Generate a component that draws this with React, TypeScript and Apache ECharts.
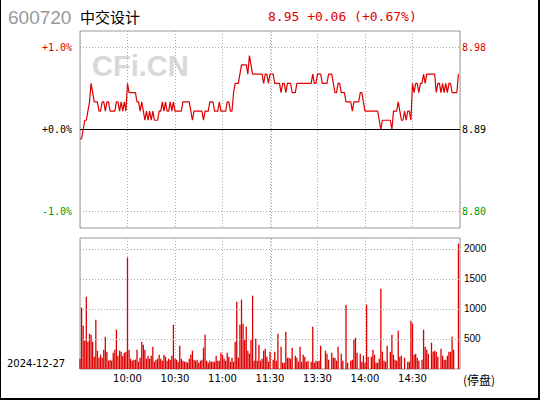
import React, { useEffect, useRef } from "react";
import * as echarts from "echarts";

const stockCode = "600720";
const stockName = "中交设计";
const tradeDate = "2024-12-27";
const statusText = "(停盘)";
const prevClose = 8.89;

// one price per minute, 9:30 .. 14:59
const prices = [
  8.88, 8.88, 8.89, 8.90, 8.90, 8.91, 8.92, 8.94, 8.93, 8.92,
  8.92, 8.92, 8.91, 8.91, 8.92, 8.92, 8.91, 8.92, 8.92, 8.91,
  8.91, 8.91, 8.91, 8.92, 8.92, 8.91, 8.92, 8.91, 8.92, 8.91,
  8.94, 8.93, 8.93, 8.93, 8.93, 8.93, 8.92, 8.92, 8.91, 8.92,
  8.91, 8.90, 8.91, 8.90, 8.91, 8.90, 8.91, 8.90, 8.90, 8.90,
  8.91, 8.91, 8.92, 8.91, 8.92, 8.91, 8.91, 8.92, 8.91, 8.92,
  8.91, 8.91, 8.91, 8.91, 8.91, 8.92, 8.92, 8.92, 8.92, 8.92,
  8.91, 8.90, 8.91, 8.91, 8.91, 8.91, 8.91, 8.91, 8.90, 8.91,
  8.91, 8.91, 8.92, 8.92, 8.92, 8.91, 8.91, 8.91, 8.92, 8.91,
  8.91, 8.91, 8.91, 8.92, 8.92, 8.91, 8.91, 8.93, 8.94, 8.94,
  8.94, 8.95, 8.96, 8.96, 8.96, 8.96, 8.95, 8.97, 8.96, 8.95,
  8.95, 8.95, 8.95, 8.95, 8.95, 8.95, 8.94, 8.95, 8.95, 8.94,
  8.95, 8.95, 8.95, 8.94, 8.94, 8.94, 8.94, 8.93, 8.94, 8.94,
  8.93, 8.94, 8.94, 8.94, 8.93, 8.93, 8.93, 8.94, 8.94, 8.94,
  8.94, 8.94, 8.94, 8.94, 8.94, 8.94, 8.94, 8.95, 8.94, 8.94,
  8.95, 8.95, 8.95, 8.94, 8.94, 8.94, 8.94, 8.95, 8.95, 8.95,
  8.94, 8.93, 8.93, 8.94, 8.94, 8.93, 8.93, 8.93, 8.92, 8.92,
  8.92, 8.92, 8.91, 8.92, 8.92, 8.92, 8.92, 8.93, 8.93, 8.92,
  8.91, 8.91, 8.91, 8.91, 8.91, 8.91, 8.91, 8.91, 8.91, 8.90,
  8.89, 8.90, 8.90, 8.90, 8.90, 8.90, 8.90, 8.89, 8.91, 8.91,
  8.91, 8.92, 8.91, 8.90, 8.90, 8.91, 8.90, 8.91, 8.91, 8.90,
  8.94, 8.93, 8.94, 8.94, 8.93, 8.94, 8.94, 8.95, 8.94, 8.95,
  8.95, 8.95, 8.95, 8.95, 8.95, 8.93, 8.94, 8.94, 8.93, 8.94,
  8.93, 8.94, 8.93, 8.94, 8.94, 8.93, 8.93, 8.93, 8.93, 8.95,
];

// volume per minute (lots)
const volumes = [
  172, 1022, 722, 472, 1206, 456, 589, 572, 456, 206,
  822, 306, 189, 239, 189, 322, 539, 289, 139, 156,
  139, 272, 322, 656, 222, 306, 289, 222, 272, 289,
  1857, 322, 172, 139, 156, 156, 322, 122, 189, 456,
  406, 322, 172, 222, 172, 222, 372, 122, 156, 172,
  239, 172, 139, 239, 206, 139, 172, 156, 222, 739,
  172, 156, 122, 389, 172, 139, 122, 122, 106, 172,
  239, 306, 156, 139, 156, 106, 139, 156, 356, 572,
  139, 106, 139, 122, 122, 122, 222, 139, 139, 272,
  239, 172, 139, 272, 206, 122, 189, 122, 456, 1122,
  189, 739, 1156, 756, 489, 706, 306, 256, 489, 1222,
  139, 506, 139, 406, 139, 172, 306, 339, 206, 122,
  289, 0, 156, 289, 139, 589, 0, 372, 106, 106,
  622, 189, 189, 172, 356, 0, 222, 189, 122, 372,
  122, 239, 206, 122, 139, 0, 122, 706, 106, 139,
  122, 139, 389, 0, 0, 306, 256, 156, 0, 272,
  189, 189, 139, 372, 0, 256, 139, 0, 1072, 106,
  0, 139, 156, 489, 522, 272, 0, 256, 122, 222,
  106, 1072, 206, 0, 206, 322, 239, 106, 106, 172,
  1339, 289, 139, 122, 389, 0, 289, 572, 239, 156,
  139, 639, 206, 222, 0, 189, 0, 122, 122, 806,
  756, 239, 256, 189, 139, 0, 156, 656, 372, 322,
  256, 0, 439, 289, 306, 289, 206, 0, 339, 222,
  156, 156, 222, 289, 289, 539, 322, 0, 0, 2089,
];

const timeTicks = [30, 60, 90, 120, 150, 180, 210];
const timeLabels = ["10:00", "10:30", "11:00", "11:30", "13:30", "14:00", "14:30"];
const lunchResumeTick = 121;
const pctTicks = [1, 0, -1];
const volumeTicks = [500, 1000, 1500, 2000];

const RED = "#dd0000";
const GREEN = "#009900";
const GRID = "#aaaaaa";
const BORDER = "#999999";
const MONO = "DejaVu Sans Mono";
const SANS = "DejaVu Sans";

const toPct = (p: number) => (p / prevClose - 1) * 100;
const fmtPct = (v: number) => (v < 0 ? "-" : "+") + Math.abs(v).toFixed(1) + "%";
const priceAt = (v: number) => (prevClose * (1 + v / 100)).toFixed(2);

export default function App() {
  const ref = useRef<HTMLDivElement>(null);

  useEffect(() => {
    if (!ref.current) return;
    const chart = echarts.init(ref.current, undefined, { renderer: "svg" });

    const last = prices[prices.length - 1];
    const chg = last - prevClose;
    const chgPct = (chg / prevClose) * 100;
    const sign = chg >= 0 ? "+" : "-";
    const headText = `${last.toFixed(2)} ${sign}${Math.abs(chg).toFixed(2)} (${sign}${Math.abs(chgPct).toFixed(2)}%)`;

    const dotted = { color: GRID, type: [1, 2] as any, width: 1 };

    const priceMarks: any[] = [];
    pctTicks.forEach((v) => {
      const color = v > 0 ? RED : v < 0 ? GREEN : "#000000";
      const ls = v === 0 ? { color: "#000000", type: "solid", width: 1 } : dotted;
      priceMarks.push({
        yAxis: v,
        lineStyle: ls,
        label: { show: true, position: "start", formatter: fmtPct(v), color, distance: 8, fontFamily: MONO, fontSize: 10 },
      });
      priceMarks.push({
        yAxis: v,
        lineStyle: ls,
        label: { show: true, position: "end", formatter: priceAt(v), color, distance: 2, fontFamily: MONO, fontSize: 10 },
      });
    });
    priceMarks.push({ xAxis: lunchResumeTick, lineStyle: dotted, label: { show: false } });

    const volMarks: any[] = volumeTicks.map((v) => ({
      yAxis: v,
      lineStyle: dotted,
      label: { show: true, position: "end", formatter: String(v), color: "#000000", distance: 4, fontFamily: "Liberation Sans", fontSize: 10 },
    }));
    volMarks.push({ xAxis: lunchResumeTick, lineStyle: dotted, label: { show: false } });

    const xBase = {
      type: "value",
      min: 0,
      max: 240,
      interval: 30,
      axisLine: { show: false },
      axisTick: { show: false },
      splitLine: { show: true, lineStyle: dotted },
    };

    chart.setOption({
      animation: false,
      backgroundColor: "#ffffff",
      grid: [
        { left: 80, top: 31, width: 380, height: 197, show: true, borderColor: BORDER, borderWidth: 1 },
        { left: 80, top: 238, width: 380, height: 131, show: true, borderColor: BORDER, borderWidth: 1 },
      ],
      xAxis: [
        { ...xBase, gridIndex: 0, axisLabel: { show: false } },
        {
          ...xBase,
          gridIndex: 1,
          axisLabel: {
            show: true,
            margin: 4,
            color: "#000000",
            fontFamily: SANS,
            fontSize: 10,
            formatter: (v: number) => {
              const k = timeTicks.indexOf(v);
              return k >= 0 ? timeLabels[k] : "";
            },
          },
        },
      ],
      yAxis: [
        { type: "value", gridIndex: 0, min: -1.2, max: 1.2, axisLabel: { show: false }, axisLine: { show: false }, axisTick: { show: false }, splitLine: { show: false } },
        { type: "value", gridIndex: 1, min: 0, max: 2183, axisLabel: { show: false }, axisLine: { show: false }, axisTick: { show: false }, splitLine: { show: false } },
      ],
      graphic: [
        { type: "rect", shape: { x: 0, y: -10, width: 539, height: 409 }, style: { fill: "none", stroke: "#000000", lineWidth: 2 }, silent: true },
        { type: "text", x: 8, y: 17, style: { text: stockCode, fill: "#999999", font: "19px 'Liberation Sans'", textVerticalAlign: "middle" } },
        { type: "text", x: 80, y: 16, style: { text: stockName, fill: "#000000", font: "15px 'Noto Sans CJK SC'", textVerticalAlign: "middle" } },
        { type: "text", x: 268, y: 16, style: { text: headText, fill: RED, font: `13px '${MONO}'`, textVerticalAlign: "middle" } },
        { type: "text", x: 92, y: 66, z: 0, style: { text: "CFi.CN", fill: "#d8d8d8", font: "bold 29px 'Liberation Sans'", textVerticalAlign: "middle" } },
        { type: "text", x: 7, y: 363, style: { text: tradeDate, fill: "#000000", font: `10px '${SANS}'`, textVerticalAlign: "middle" } },
        { type: "text", x: 463, y: 379, style: { text: statusText, fill: "#000000", font: "12px 'Noto Sans CJK SC'", textVerticalAlign: "middle" } },
      ],
      series: [
        {
          type: "line",
          xAxisIndex: 0,
          yAxisIndex: 0,
          data: prices.map((p, i) => [i, toPct(p)]),
          showSymbol: false,
          symbol: "none",
          smooth: false,
          lineStyle: { color: RED, width: 1.2 },
          z: 3,
          markLine: { silent: true, symbol: ["none", "none"], animation: false, data: priceMarks },
        },
        {
          type: "bar",
          xAxisIndex: 1,
          yAxisIndex: 1,
          data: volumes.map((v, i) => [i, v]),
          barWidth: 1.3,
          itemStyle: { color: RED },
          markLine: { silent: true, symbol: ["none", "none"], animation: false, data: volMarks },
        },
      ],
    });

    return () => chart.dispose();
  }, []);

  return (
    <div
      ref={ref}
      style={{ position: "absolute", left: 0, top: 0, width: 540, height: 400, background: "#ffffff" }}
    />
  );
}
